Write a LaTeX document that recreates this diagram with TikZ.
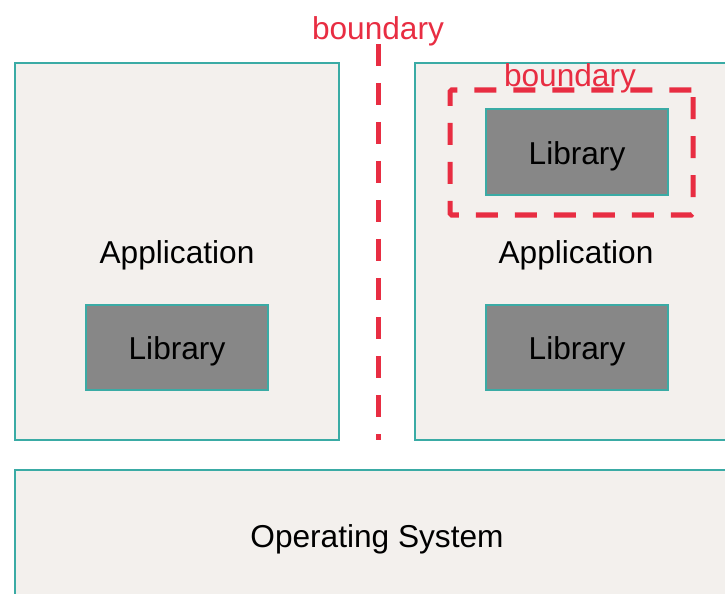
\documentclass[tikz,border=0pt]{standalone}
\usepackage{fontspec}
\setmainfont{Liberation Sans}
\usepackage{tikz}
\usetikzlibrary{positioning}
\definecolor{layerteal}{HTML}{3AABA5}
\definecolor{layerfill}{HTML}{F3F0ED}
\definecolor{libgray}{HTML}{878787}
\definecolor{boundred}{HTML}{E82D42}

\begin{document}
\begin{tikzpicture}[
  layer/.style={rectangle, draw=layerteal, fill=layerfill, line width=1.1pt,
                font=\fontsize{18}{22}\selectfont, inner sep=0pt,
                text height=0.62cm, text depth=0.13cm},
  libbox/.style={rectangle, draw=layerteal, fill=libgray, line width=1.1pt,
                 minimum width=3.64cm, minimum height=1.71cm, inner sep=0pt,
                 font=\fontsize{18}{22}\selectfont,
                 text height=0.62cm, text depth=0.13cm},
  border/.style={draw=boundred, line width=2.85pt, dash pattern=on 0.44cm off 0.34cm},
  tag/.style={text=boundred, font=\fontsize{18}{22}\selectfont,
              text height=0.62cm, text depth=0.13cm}
]
\useasboundingbox (0,0) rectangle (14.5,11.86);
\clip (0,0) rectangle (14.5,11.86);
% applications and os
\node[layer, minimum width=6.48cm, minimum height=7.54cm] (appl) at (3.54,6.83) {Application};
\node[layer, minimum width=6.44cm, minimum height=7.54cm] (appr) at (11.52,6.83) {Application};
\node[layer, minimum width=14.48cm, minimum height=2.6cm] (os) at (7.54,1.16) {Operating System};

% libraries
\node[libbox] (libl) at (3.54,4.91) {Library};
\node[libbox] (libr) at (11.54,4.91) {Library};
\node[libbox] (libu) at (11.54,8.82) {Library};

% boundaries
\node[border, rounded corners=1pt, minimum width=4.86cm, minimum height=2.5cm] (bndr) at (11.43,8.81) {};
\node[tag] (tagr) at (11.40,10.38) {boundary};
\node[tag] (tagl) at (7.56,11.32) {boundary};
\coordinate (btop) at (7.56,10.98);
\coordinate (bbot) at (7.56,3.06);
\draw[border] (btop) -- (bbot);
\end{tikzpicture}
\end{document}
